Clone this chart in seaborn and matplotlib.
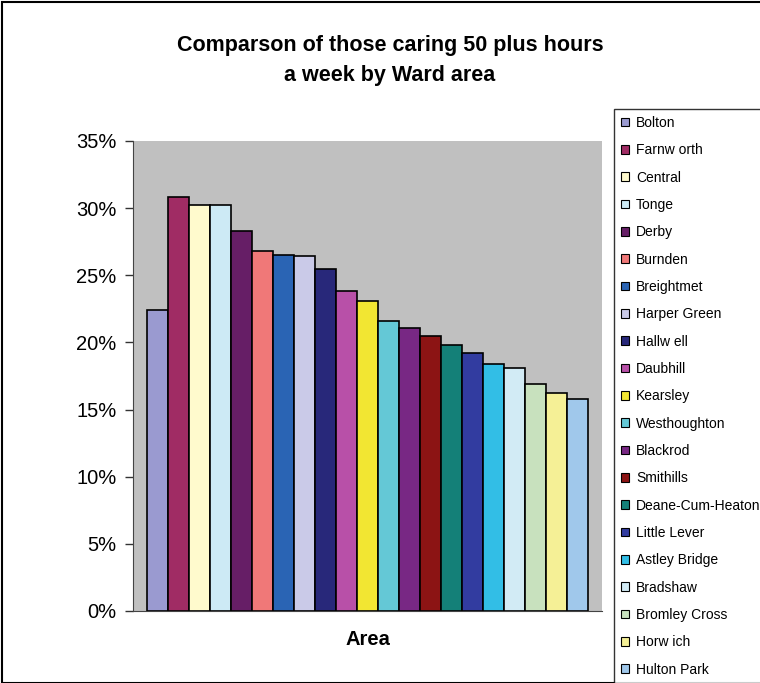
import matplotlib
matplotlib.use("Agg")
import matplotlib.pyplot as plt
import seaborn as sns
import pandas as pd
from matplotlib.patches import Rectangle
from matplotlib.ticker import FuncFormatter

areas = ["Bolton", "Farnw orth", "Central", "Tonge", "Derby", "Burnden", "Breightmet",
         "Harper Green", "Hallw ell", "Daubhill", "Kearsley", "Westhoughton", "Blackrod",
         "Smithills", "Deane-Cum-Heaton", "Little Lever", "Astley Bridge", "Bradshaw",
         "Bromley Cross", "Horw ich", "Hulton Park"]
values = [22.4, 30.8, 30.2, 30.2, 28.3, 26.8, 26.5, 26.4, 25.5, 23.8, 23.1,
          21.6, 21.1, 20.5, 19.8, 19.2, 18.4, 18.1, 16.9, 16.2, 15.8]
colors = ["#9a9ad0", "#a02c64", "#fffacd", "#cdeaf5", "#661e66", "#f07878", "#2a64b4",
          "#cacae8", "#28287a", "#b850a8", "#f2e632", "#64c8d6", "#782884", "#8c1414",
          "#148078", "#323ca0", "#32bee6", "#d2ebf5", "#c8e1be", "#f5f096", "#a0c8eb"]
yticks = [0, 5, 10, 15, 20, 25, 30, 35]

df = pd.DataFrame({"Area": areas, "Value": values})

sns.set_style("white")
plt.rcParams["font.family"] = ["Liberation Sans", "DejaVu Sans"]
plt.rcParams["text.color"] = "black"
plt.rcParams["axes.labelcolor"] = "black"
plt.rcParams["ytick.color"] = "black"

fig = plt.figure(figsize=(7.6, 6.83), dpi=100)
ax = fig.add_axes([133/760, 1-611/683, (602-133)/760, (611-141)/683])
ax.set_facecolor("#c0c0c0")

sns.barplot(data=df, x="Area", y="Value", hue="Area", palette=colors, width=1.0,
            dodge=False, edgecolor="black", linewidth=1.2, legend=False, ax=ax,
            saturation=1)

ax.set_xlim(-1.17, 21.17)
ax.set_ylim(0, 35)
ax.set_yticks(yticks)
ax.yaxis.set_major_formatter(FuncFormatter(lambda v, p: f"{int(v)}%"))
ax.tick_params(axis="y", labelsize=14.5, length=6, width=1, direction="out",
               left=True, pad=6, colors="#333333", labelcolor="black")
ax.set_xticks([])
ax.set_xlabel("Area", fontsize=14.5, fontweight="bold", labelpad=14)
ax.set_ylabel("")
for s in ["top", "right"]:
    ax.spines[s].set_visible(False)
ax.spines["left"].set_color("#444444")
ax.spines["bottom"].set_color("#444444")

handles = [Rectangle((0, 0), 1, 1, facecolor=c, edgecolor="black", linewidth=0.8) for c in colors]
leg = fig.legend(handles, areas, loc="upper left", bbox_to_anchor=(614/760, 1-109/683),
                 frameon=True, fontsize=10, handlelength=0.6, handleheight=0.6,
                 handletextpad=0.5, labelspacing=0.96, borderaxespad=0,
                 borderpad=0.5, fancybox=False)
leg.get_frame().set_edgecolor("black")
leg.get_frame().set_linewidth(1.0)

fig.text(0.513, 1-45/683, "Comparson of those caring 50 plus hours", ha="center",
         va="center", fontsize=15.5, fontweight="bold")
fig.text(0.513, 1-75/683, "a week by Ward area", ha="center", va="center",
         fontsize=15.5, fontweight="bold")

fig.patches.append(Rectangle((2/760, 0), 1, 1-2/683, transform=fig.transFigure,
                             fill=False, edgecolor="black", linewidth=1.5))

fig.savefig("out.png", dpi=100)
